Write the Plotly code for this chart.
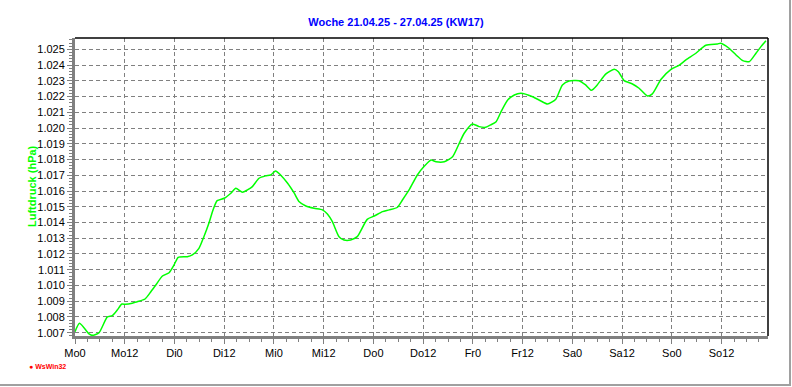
import plotly.graph_objects as go

# hours since Monday 00:00 and air pressure (hPa / 1000 as displayed)
hours = [0.0, 1.1, 3.4, 4.2, 5.8, 7.8, 9.0, 10.2, 11.3, 12.2, 13.8, 15.0, 16.9, 18.3, 19.5,
         21.1, 22.7, 23.9, 24.9, 27.1, 28.3, 29.9, 31.1, 32.3, 33.3, 34.3, 36.0, 37.6, 38.8,
         40.4, 41.6, 42.8, 44.4, 46.0, 47.2, 48.4, 49.6, 51.3, 52.9, 54.1, 55.7, 57.7, 59.7,
         60.9, 62.1, 63.7, 64.9, 66.5, 68.1, 70.5, 72.2, 74.2, 75.8, 77.8, 79.0, 80.6, 82.6,
         84.2, 85.9, 87.1, 89.1, 91.1, 92.7, 93.9, 95.9, 97.5, 99.1, 100.3, 101.6, 102.8,
         104.4, 106.0, 107.6, 110.4, 112.4, 114.0, 116.0, 117.6, 119.2, 121.6, 123.2, 124.6,
         126.0, 128.1, 130.1, 131.1, 132.5, 134.5, 136.1, 138.1, 139.3, 141.4, 143.8, 145.8,
         147.4, 149.8, 152.2, 155.0, 155.8, 157.8, 159.5, 161.1, 162.7, 164.3, 165.5, 166.7]
pressure = [1.00706, 1.00760, 1.00692, 1.00683, 1.00700, 1.00800, 1.00808, 1.00844, 1.00882,
            1.00880, 1.00887, 1.00897, 1.00914, 1.00960, 1.01003, 1.01060, 1.01081, 1.01130,
            1.01179, 1.01183, 1.01194, 1.01236, 1.01310, 1.01395, 1.01480, 1.01539, 1.01554,
            1.01586, 1.01617, 1.01592, 1.01607, 1.01628, 1.01681, 1.01696, 1.01702, 1.01727,
            1.01702, 1.01649, 1.01586, 1.01532, 1.01505, 1.01490, 1.01480, 1.01454, 1.01405,
            1.01310, 1.01289, 1.01289, 1.01310, 1.01420, 1.01441, 1.01469, 1.01480, 1.01497,
            1.01543, 1.01607, 1.01702, 1.01755, 1.01797, 1.01786, 1.01786, 1.01818, 1.01903,
            1.01967, 1.02026, 1.02009, 1.02005, 1.02020, 1.02040, 1.02104, 1.02178, 1.02210,
            1.02221, 1.02199, 1.02172, 1.02153, 1.02183, 1.02274, 1.02299, 1.02301, 1.02274,
            1.02240, 1.02274, 1.02344, 1.02373, 1.02358, 1.02301, 1.02280, 1.02253, 1.02204,
            1.02217, 1.02310, 1.02373, 1.02400, 1.02433, 1.02475, 1.02526, 1.02534, 1.02539,
            1.02507, 1.02464, 1.02428, 1.02422, 1.02475, 1.02517, 1.02555]

x_tickvals = [0, 12, 24, 36, 48, 60, 72, 84, 96, 108, 120, 132, 144, 156]
x_ticktext = ["Mo0", "Mo12", "Di0", "Di12", "Mi0", "Mi12", "Do0", "Do12",
              "Fr0", "Fr12", "Sa0", "Sa12", "So0", "So12"]
y_tickvals = [1.007 + 0.001 * i for i in range(19)]

title_text = "Woche 21.04.25 - 27.04.25 (KW17)"
y_title = "Luftdruck (hPa)"

W, H = 792, 387
L, R, T, B = 75, 768, 38, 336
pw, ph = R - L, B - T

fig = go.Figure()
fig.add_trace(go.Scatter(x=hours, y=pressure, mode="lines",
                         line=dict(color="#00ff00", width=1.5, shape="spline", smoothing=0.6),
                         hoverinfo="x+y", showlegend=False))

font = "Liberation Sans, Arial, sans-serif"
fig.update_layout(
    width=W, height=H,
    margin=dict(l=L, r=W - R, t=T, b=H - B, pad=0),
    paper_bgcolor="white", plot_bgcolor="white",
    title=dict(text="<b>" + title_text + "</b>", x=0.5, xanchor="center",
               y=1 - 22 / H, yanchor="middle",
               font=dict(family=font, size=11, color="#0000ff")),
    font=dict(family=font, size=11, color="black"),
    xaxis=dict(range=[0, 167.2], tickvals=x_tickvals, ticktext=x_ticktext,
               showgrid=True, gridcolor="#808080", gridwidth=1, griddash="4px,3px",
               showline=True, linecolor="#808080", linewidth=3, mirror=False,
               ticks="outside", ticklen=5, tickcolor="#808080", tickwidth=1,
               tickfont=dict(family=font, size=11, color="black"),
               minor=dict(dtick=3, tick0=0, ticks="outside", ticklen=3,
                          tickcolor="#808080", showgrid=False),
               zeroline=False, fixedrange=True),
    yaxis=dict(range=[1.00679, 1.02572], tickvals=y_tickvals, tickformat=".3f",
               showgrid=True, gridcolor="#808080", gridwidth=1, griddash="4px,3px",
               showline=True, linecolor="#808080", linewidth=3, mirror=False,
               ticks="outside", ticklen=5, tickcolor="#808080", tickwidth=1,
               tickfont=dict(family=font, size=11, color="black"),
               minor=dict(dtick=0.0002, tick0=1.007, ticks="outside", ticklen=3,
                          tickcolor="#808080", showgrid=False),
               zeroline=False, fixedrange=True),
    shapes=[
        dict(type="line", xref="paper", yref="paper", x0=0, x1=1, y0=1, y1=1,
             line=dict(color="black", width=1.5)),
        dict(type="line", xref="paper", yref="paper", x0=1, x1=1, y0=0, y1=1,
             line=dict(color="black", width=1.5)),
        dict(type="line", xref="paper", yref="paper",
             x0=(790 - L) / pw, x1=(790 - L) / pw, y0=(B - 386) / ph, y1=(B + 2) / ph,
             line=dict(color="#a0a0a0", width=2)),
        dict(type="line", xref="paper", yref="paper",
             x0=-L / pw, x1=(790 - L) / pw, y0=(B - 385) / ph, y1=(B - 385) / ph,
             line=dict(color="#a0a0a0", width=2)),
    ],
    annotations=[
        dict(text="<b>" + y_title + "</b>", xref="paper", yref="paper",
             x=(32 - L) / pw, y=(B - 186) / ph, xanchor="center", yanchor="middle",
             textangle=-90, showarrow=False,
             font=dict(family=font, size=11, color="#00ff00")),
        dict(text="<b>● WsWin32</b>", xref="paper", yref="paper",
             x=(27 - L) / pw, y=(B - 366) / ph, xanchor="left", yanchor="middle",
             showarrow=False, font=dict(family=font, size=7, color="#ff0000")),
    ],
)

fig.write_html("out.html", config={"displayModeBar": False},
               post_script="document.body.style.margin='0';document.body.style.overflow='hidden';")
